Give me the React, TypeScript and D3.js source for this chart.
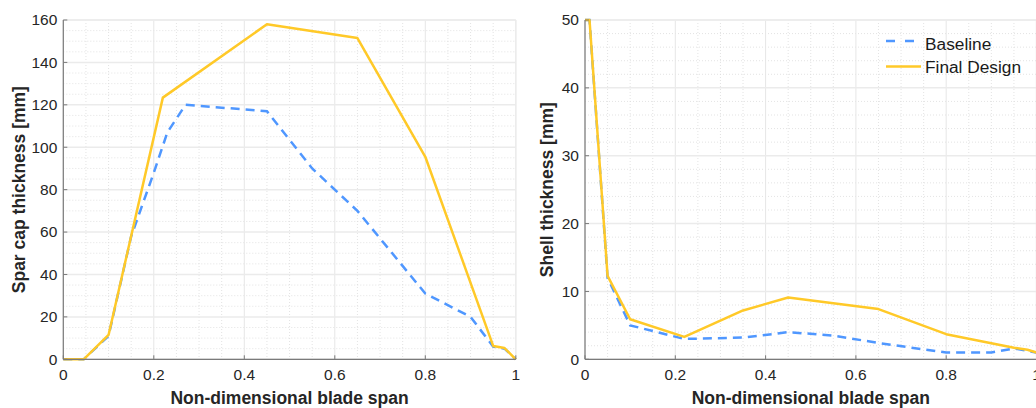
import React from "react";
import * as d3 from "d3";

// ---- Data ----
const sparBaseX = [0, 0.045, 0.1, 0.15, 0.2, 0.23, 0.27, 0.45, 0.55, 0.65, 0.8, 0.9, 0.95, 0.975, 1];
const sparBaseY = [0, 0, 11, 58, 88, 107, 120, 117, 90, 70, 31, 20, 6, 5, 0];
const sparFinalX = [0, 0.045, 0.1, 0.22, 0.45, 0.65, 0.8, 0.95, 0.975, 1];
const sparFinalY = [0, 0, 11.5, 123.4, 158, 151.5, 95.5, 6.3, 5.3, 0];

const shellBaseX = [0, 0.01, 0.05, 0.1, 0.22, 0.35, 0.45, 0.55, 0.65, 0.8, 0.9, 0.95, 1];
const shellBaseY = [50, 50, 12, 5, 3, 3.2, 4, 3.5, 2.4, 1, 1, 1.6, 1.0];
const shellFinalX = [0, 0.01, 0.05, 0.1, 0.22, 0.35, 0.45, 0.65, 0.8, 0.95, 0.98, 1];
const shellFinalY = [50, 50, 12.3, 5.9, 3.3, 7.2, 9.1, 7.4, 3.7, 1.7, 1.4, 1.0];

const xTicks = [0, 0.2, 0.4, 0.6, 0.8, 1];
const xTickLabels = ["0", "0.2", "0.4", "0.6", "0.8", "1"];
const sparYTicks = [0, 20, 40, 60, 80, 100, 120, 140, 160];
const shellYTicks = [0, 10, 20, 30, 40, 50];

const seriesNames = ["Baseline", "Final Design"];
const xLabel = "Non-dimensional blade span";
const sparYLabel = "Spar cap thickness [mm]";
const shellYLabel = "Shell thickness [mm]";

const BLUE = "#4f97ff";
const YELLOW = "#ffc928";
const FONT = "'Liberation Sans', Arial, Helvetica, sans-serif";

type PanelProps = {
  x0: number;
  x1: number;
  y0: number;
  y1: number;
  yMax: number;
  yTicks: number[];
  yMinorStep: number;
  yLabel: string;
  yLabelX: number;
  base: [number[], number[]];
  fin: [number[], number[]];
  legend?: boolean;
};

function Panel(p: PanelProps) {
  const xs = d3.scaleLinear().domain([0, 1]).range([p.x0, p.x1]);
  const ys = d3.scaleLinear().domain([0, p.yMax]).range([p.y1, p.y0]);
  const line = d3
    .line<[number, number]>()
    .x((d) => xs(d[0]))
    .y((d) => ys(d[1]));
  const basePts = p.base[0].map((x, i) => [x, p.base[1][i]] as [number, number]);
  const finPts = p.fin[0].map((x, i) => [x, p.fin[1][i]] as [number, number]);

  const xMinor = d3.range(0.05, 1, 0.05).filter((v) => Math.abs(v / 0.2 - Math.round(v / 0.2)) > 1e-6);
  const yMinor = d3
    .range(p.yMinorStep, p.yMax, p.yMinorStep)
    .filter((v) => !p.yTicks.some((t) => Math.abs(t - v) < 1e-6));

  const clipId = `clip-${Math.round(p.x0)}`;
  return (
    <g>
      <defs>
        <clipPath id={clipId}>
          <rect x={p.x0 - 2} y={p.y0 - 2} width={p.x1 - p.x0 + 4} height={p.y1 - p.y0 + 4} />
        </clipPath>
      </defs>
      {/* minor grid */}
      {xMinor.map((v) => (
        <line key={"xm" + v} x1={xs(v)} x2={xs(v)} y1={p.y0} y2={p.y1} stroke="#dcdcdc" strokeWidth={0.8} strokeDasharray="1,2" />
      ))}
      {yMinor.map((v) => (
        <line key={"ym" + v} x1={p.x0} x2={p.x1} y1={ys(v)} y2={ys(v)} stroke="#dcdcdc" strokeWidth={0.8} strokeDasharray="1,2" />
      ))}
      {/* major grid */}
      {xTicks.map((v) => (
        <line key={"xg" + v} x1={xs(v)} x2={xs(v)} y1={p.y0} y2={p.y1} stroke="#e6e6e6" strokeWidth={1} />
      ))}
      {p.yTicks.map((v) => (
        <line key={"yg" + v} x1={p.x0} x2={p.x1} y1={ys(v)} y2={ys(v)} stroke="#ebebeb" strokeWidth={1.5} />
      ))}
      {/* box top/right */}
      <line x1={p.x0} x2={p.x1} y1={p.y0} y2={p.y0} stroke="#ececec" strokeWidth={1.5} />
      <line x1={p.x1} x2={p.x1} y1={p.y0} y2={p.y1} stroke="#ececec" strokeWidth={1.5} />
      {/* series */}
      <g clipPath={`url(#${clipId})`}>
        <path d={line(basePts) || ""} fill="none" stroke={BLUE} strokeWidth={2.5} strokeDasharray="9,6" />
        <path d={line(finPts) || ""} fill="none" stroke={YELLOW} strokeWidth={2.5} strokeLinejoin="round" />
      </g>
      {/* axes */}
      <line x1={p.x0} x2={p.x1} y1={p.y1} y2={p.y1} stroke="#7a7a7a" strokeWidth={1.2} />
      <line x1={p.x0} x2={p.x0} y1={p.y0} y2={p.y1} stroke="#7a7a7a" strokeWidth={1.2} />
      {xTicks.map((v) => (
        <line key={"xt" + v} x1={xs(v)} x2={xs(v)} y1={p.y1} y2={p.y1 - 4} stroke="#7a7a7a" strokeWidth={1} />
      ))}
      {p.yTicks.map((v) => (
        <line key={"yt" + v} x1={p.x0} x2={p.x0 + 4} y1={ys(v)} y2={ys(v)} stroke="#7a7a7a" strokeWidth={1} />
      ))}
      {/* tick labels */}
      {xTicks.map((v, i) => (
        <text key={"xl" + v} x={xs(v)} y={p.y1 + 21} textAnchor="middle" fontSize={15.5} fill="#262626" fontFamily={FONT}>
          {xTickLabels[i]}
        </text>
      ))}
      {p.yTicks.map((v) => (
        <text key={"yl" + v} x={p.x0 - 6} y={ys(v)} dy="0.35em" textAnchor="end" fontSize={15.5} fill="#262626" fontFamily={FONT}>
          {v}
        </text>
      ))}
      {/* axis labels */}
      <text x={(p.x0 + p.x1) / 2} y={404} textAnchor="middle" fontSize={17.5} fontWeight="bold" fill="#262626" fontFamily={FONT}>
        {xLabel}
      </text>
      <text
        transform={`translate(${p.yLabelX},${(p.y0 + p.y1) / 2}) rotate(-90)`}
        textAnchor="middle"
        fontSize={17.5}
        fontWeight="bold"
        fill="#262626"
        fontFamily={FONT}
      >
        {p.yLabel}
      </text>
      {p.legend && (
        <g fontFamily={FONT} fontSize={17.3} fill="#1a1a1a">
          <line x1={886} x2={916} y1={41} y2={41} stroke={BLUE} strokeWidth={2.5} strokeDasharray="9,10" />
          <text x={925} y={49.5}>{seriesNames[0]}</text>
          <line x1={886} x2={921} y1={66.5} y2={66.5} stroke={YELLOW} strokeWidth={2.5} />
          <text x={925} y={72.5}>{seriesNames[1]}</text>
        </g>
      )}
    </g>
  );
}

export default function App() {
  return (
    <svg
      width={1036}
      height={408}
      style={{ position: "absolute", left: 0, top: 0, background: "#fff" }}
    >
      <rect x={0} y={0} width={1036} height={408} fill="#fff" />
      <Panel
        x0={63.3}
        x1={515.8}
        y0={20}
        y1={359.3}
        yMax={160}
        yTicks={sparYTicks}
        yMinorStep={5}
        yLabel={sparYLabel}
        yLabelX={24.5}
        base={[sparBaseX, sparBaseY]}
        fin={[sparFinalX, sparFinalY]}
      />
      <Panel
        x0={585}
        x1={1036.5}
        y0={20}
        y1={359.3}
        yMax={50}
        yTicks={shellYTicks}
        yMinorStep={2}
        yLabel={shellYLabel}
        yLabelX={553}
        base={[shellBaseX, shellBaseY]}
        fin={[shellFinalX, shellFinalY]}
        legend
      />
    </svg>
  );
}
